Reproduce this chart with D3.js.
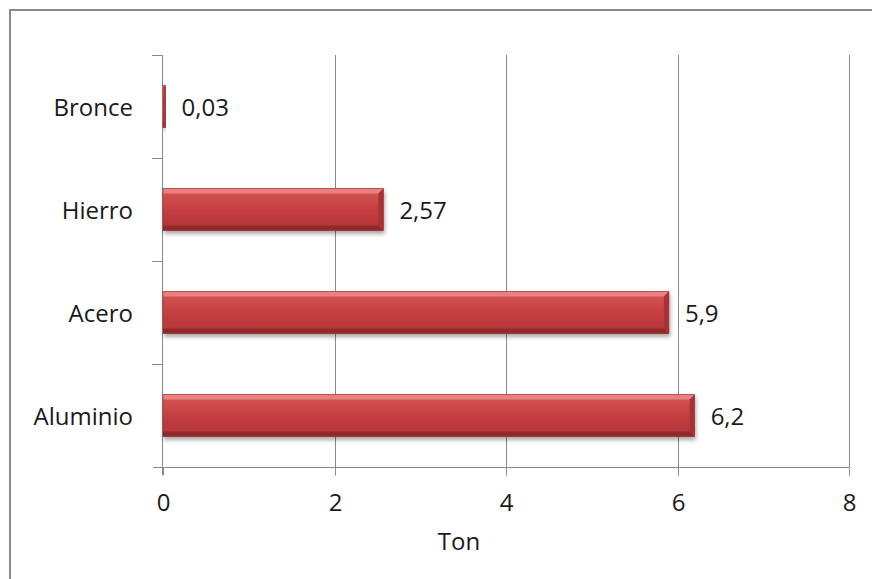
<!DOCTYPE html>
<html>
<head>
<meta charset="utf-8">
<script src="https://cdn.jsdelivr.net/npm/d3@7"></script>
<style>
  html, body { margin: 0; padding: 0; background: #fff; }
  svg { display: block; }
  text { font-family: "Open Sans", "Noto Sans", sans-serif; fill: #1a1a1a; }
</style>
</head>
<body>
<svg id="chart" width="872" height="579"></svg>
<script>
// Material tonnage
const categories = ["Bronce", "Hierro", "Acero", "Aluminio"];
const values = [0.03, 2.57, 5.9, 6.2];
const valueLabels = ["0,03", "2,57", "5,9", "6,2"];
const xTicks = [0, 2, 4, 6, 8];
const xTitle = "Ton";

const W = 872, H = 579;
const FS = 24;
const svg = d3.select("#chart");

// outer chart frame (runs past the right and bottom edge)
svg.append("rect")
  .attr("x", 10).attr("y", 10)
  .attr("width", W + 20).attr("height", H + 20)
  .attr("fill", "#fff").attr("stroke", "#8c8c8c").attr("stroke-width", 2);

const plot = { left: 163, right: 849, top: 55, bottom: 467 };

const x = d3.scaleLinear().domain([0, 8]).range([plot.left, plot.right]);
const y = d3.scaleBand().domain(categories)
  .range([plot.top, plot.bottom]).paddingInner(0.59).paddingOuter(0.295);

const defs = svg.append("defs");
const grad = defs.append("linearGradient").attr("id", "barGrad")
  .attr("x1", 0).attr("y1", 0).attr("x2", 0).attr("y2", 1);
[[0, "#d65858"], [0.5, "#c63e40"], [1, "#b3333a"]].forEach(([o, c]) =>
  grad.append("stop").attr("offset", o).attr("stop-color", c));

const shadow = defs.append("filter").attr("id", "barShadow")
  .attr("x", "-5%").attr("y", "-20%").attr("width", "115%").attr("height", "160%");
shadow.append("feGaussianBlur").attr("in", "SourceAlpha").attr("stdDeviation", 2);
shadow.append("feOffset").attr("dx", 1).attr("dy", 3).attr("result", "off");
shadow.append("feComponentTransfer").append("feFuncA").attr("type", "linear").attr("slope", 0.35);
const merge = shadow.append("feMerge");
merge.append("feMergeNode");
merge.append("feMergeNode").attr("in", "SourceGraphic");

// vertical gridlines
svg.append("g").selectAll("line").data(xTicks.filter(d => d > 0)).join("line")
  .attr("x1", d => Math.round(x(d)) + 0.5).attr("x2", d => Math.round(x(d)) + 0.5)
  .attr("y1", plot.top).attr("y2", plot.bottom)
  .attr("stroke", "#8a8a8a").attr("stroke-width", 1);

// bottom axis
const xAxis = svg.append("g").attr("transform", `translate(0,${plot.bottom + 0.5})`)
  .call(d3.axisBottom(x).tickValues(xTicks).tickSize(8).tickPadding(26).tickFormat(d3.format("d")));
xAxis.select(".domain").attr("stroke", "#8a8a8a").attr("d", `M${plot.left - 10},0H${plot.right}`);
xAxis.selectAll(".tick line").attr("stroke", "#8a8a8a");
xAxis.selectAll(".tick").attr("transform", d => `translate(${Math.round(x(d)) + 0.5},0)`);
xAxis.selectAll("text").attr("font-size", FS).attr("fill", "#1a1a1a")
  .attr("dy", null).attr("dominant-baseline", "central")
  .style("font-family", '"Open Sans", sans-serif');

// left axis
const yBound = d3.range(categories.length + 1).map(i => plot.top + i * (plot.bottom - plot.top) / categories.length);
const yAx = svg.append("g");
yAx.append("line").attr("x1", plot.left - 0.5).attr("x2", plot.left - 0.5)
  .attr("y1", plot.top).attr("y2", plot.bottom + 8).attr("stroke", "#8a8a8a");
yAx.selectAll(".yt").data(yBound.slice(0, -1)).join("line")
  .attr("x1", plot.left - 11).attr("x2", plot.left)
  .attr("y1", d => Math.round(d) + 0.5).attr("y2", d => Math.round(d) + 0.5)
  .attr("stroke", "#8a8a8a");

// category labels
svg.append("g").selectAll("text").data(categories).join("text")
  .attr("x", 133).attr("y", d => y(d) + y.bandwidth() / 2)
  .attr("text-anchor", "end").attr("dominant-baseline", "central")
  .attr("font-size", FS).text(d => d);

// bars with bevel
const bars = svg.append("g").selectAll("g").data(categories).join("g")
  .attr("filter", "url(#barShadow)");
bars.each(function(d, i) {
  const g = d3.select(this);
  const x0 = x(0), x1 = x(values[i]);
  const y0 = y(d), h = y.bandwidth(), y1 = y0 + h;
  const w = x1 - x0;
  const b = Math.min(5, w / 2);
  g.append("rect").attr("x", x0).attr("y", y0).attr("width", w).attr("height", h)
    .attr("fill", "url(#barGrad)");
  // top bevel
  g.append("path").attr("d", `M${x0},${y0}H${x1}L${x1 - b},${y0 + b}H${x0}Z`).attr("fill", "#ea8080");
  // bottom bevel
  g.append("path").attr("d", `M${x0},${y1}H${x1}L${x1 - b},${y1 - b}H${x0}Z`).attr("fill", "#8f2a2c");
  // right bevel
  g.append("path").attr("d", `M${x1},${y0}L${x1 - b},${y0 + b}V${y1 - b}L${x1},${y1}Z`).attr("fill", "#a73234");
  g.append("rect").attr("x", x0).attr("y", y0).attr("width", w).attr("height", h)
    .attr("fill", "none").attr("stroke", "#9a3031").attr("stroke-width", 0.6);
});

// value labels
svg.append("g").selectAll("text").data(categories).join("text")
  .attr("x", (d, i) => x(values[i]) + 16).attr("y", d => y(d) + y.bandwidth() / 2)
  .attr("dominant-baseline", "central").attr("font-size", FS)
  .text((d, i) => valueLabels[i]);

// axis title
svg.append("text").attr("x", 459).attr("y", 540).attr("text-anchor", "middle")
  .attr("dominant-baseline", "central").attr("font-size", FS).text(xTitle);
</script>
</body>
</html>
